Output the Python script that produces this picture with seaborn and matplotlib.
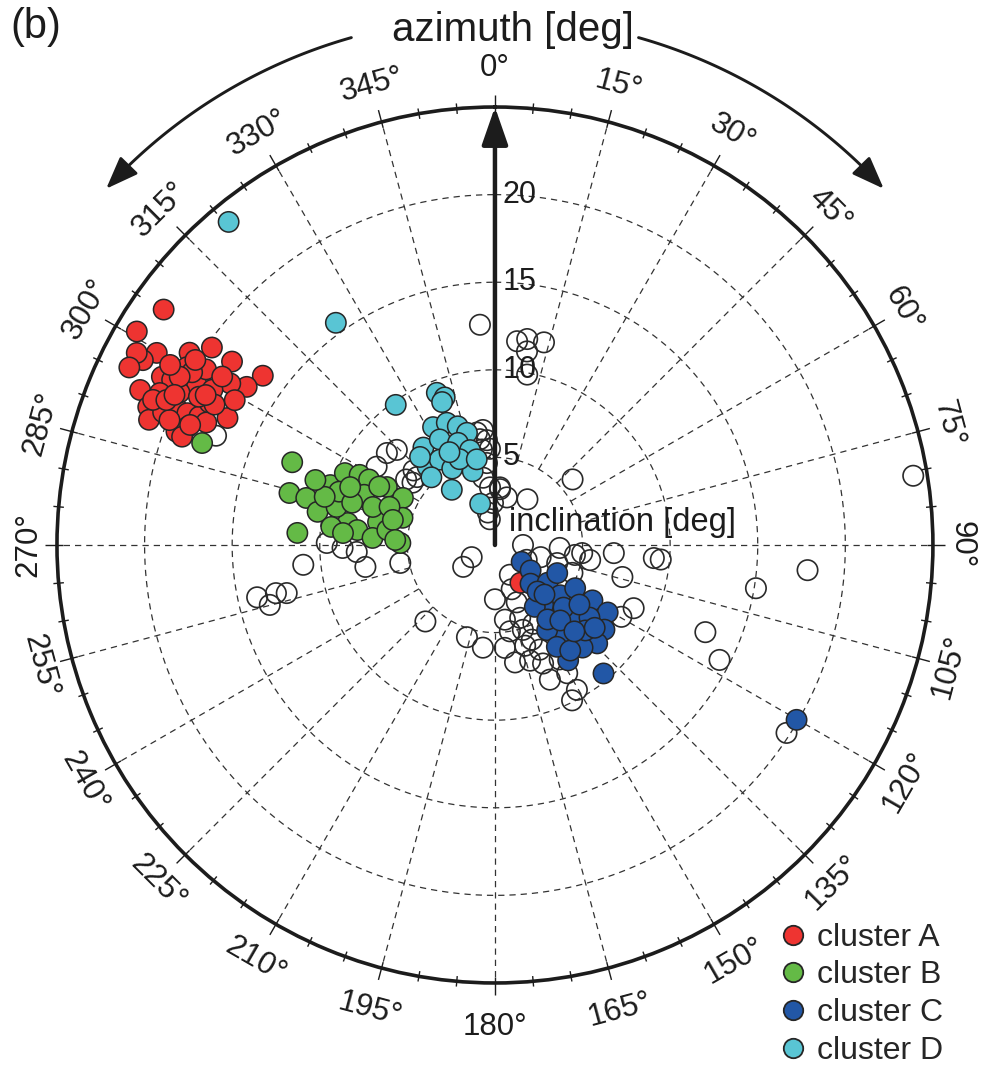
import numpy as np
import pandas as pd
import matplotlib
matplotlib.use("Agg")
import matplotlib.pyplot as plt
import matplotlib.transforms as mtransforms
from matplotlib.lines import Line2D
import seaborn as sns

# ---------------------------------------------------------------------------
# Data: azimuth [deg, clockwise from north] and inclination [deg]
# ---------------------------------------------------------------------------
a_az = [305.4, 300.8, 299.6, 297.7, 298.2, 295.9, 302.2, 304.9, 304.9, 306.1,
        302.5, 301.4, 293.6, 291.7, 289.9, 291.8, 293.3, 298.2, 300.0, 301.3,
        296.8, 297.1, 295.8, 293.2, 293.5, 295.4, 291.0, 289.6, 289.1, 296.5,
        298.8, 294.4, 293.0, 291.0, 296.6, 301.7, 299.7, 293.8, 298.1, 293.0,
        301.7, 296.6, 295.1, 299.0, 297.4, 299.1, 291.5, 146.0]
a_inc = [23.2, 23.8, 22.2, 22.7, 23.2, 23.2, 20.6, 19.7, 18.3, 16.4,
         16.8, 17.7, 22.1, 21.3, 21.0, 20.4, 19.8, 19.3, 20.3, 19.3,
         21.3, 20.7, 20.0, 19.1, 18.4, 16.9, 18.8, 19.3, 18.9, 18.2,
         18.4, 21.0, 21.2, 19.9, 18.9, 18.3, 19.9, 20.5, 20.4, 17.9,
         20.1, 17.9, 20.2, 21.2, 18.6, 17.0, 18.7, 2.6]

b_az = [292.2, 284.2, 273.5, 284.0, 280.6, 290.0, 295.6, 297.4, 297.5, 298.2,
        297.1, 286.4, 271.2, 281.1, 291.0, 278.5, 283.5, 276.3, 288.9, 286.5,
        287.3, 289.9, 276.2, 273.3, 277.9, 274.5, 285.8, 283.8, 296.8, 291.8,
        289.9, 272.9, 289.2]
b_inc = [12.5, 12.1, 11.3, 11.1, 10.3, 10.0, 9.5, 8.7, 8.1, 7.0,
         5.9, 5.5, 5.4, 6.8, 8.0, 8.5, 9.3, 9.4, 9.4, 8.5,
         7.3, 6.4, 7.9, 7.0, 6.2, 8.7, 10.1, 6.0, 7.4, 8.9,
         10.9, 5.7, 17.7]

c_az = [122.2, 125.5, 137.4, 125.6, 127.6, 118.3, 119.6, 120.9, 127.7, 133.9,
        139.5, 143.9, 140.8, 141.3, 147.2, 133.1, 127.5, 133.4, 147.6, 139.8,
        132.4, 148.5, 148.7, 144.5, 137.5, 114.3, 144.8, 139.1, 137.4, 129.7,
        125.2, 135.0, 120.1]
c_inc = [1.8, 2.5, 3.0, 3.7, 4.7, 5.2, 6.4, 7.5, 7.9, 8.1,
         7.7, 6.5, 5.2, 4.4, 4.2, 6.1, 6.8, 7.1, 7.8, 9.6,
         5.3, 5.7, 6.8, 7.4, 3.6, 3.9, 5.2, 5.7, 6.7, 7.4,
         5.9, 4.0, 19.9]

d_az = [324.7, 339.1, 341.2, 339.7, 332.3, 338.5, 342.6, 346.0, 323.7, 332.4,
        340.1, 345.3, 319.3, 327.1, 330.8, 343.2, 316.8, 322.0, 340.3, 319.6,
        337.6, 333.9, 348.0, 324.4, 320.5]
d_inc = [9.8, 9.3, 8.9, 8.7, 7.6, 7.5, 7.1, 6.6, 6.9, 6.8,
         6.2, 5.6, 5.9, 5.8, 5.0, 4.4, 5.3, 4.0, 2.5, 6.6,
         5.3, 5.9, 5.0, 15.6, 23.9]

# events not assigned to any cluster
u_az = [356.1, 6.2, 8.9, 13.6, 9.4, 10.7, 49.8, 35.4, 14.0, 4.9,
        357.3, 348.7, 350.9, 351.9, 354.0, 355.6, 352.2, 354.4, 350.0, 355.1,
        5.2, 347.7, 314.1, 306.4, 307.1, 311.1, 310.4, 303.5, 312.5, 291.4,
        270.7, 268.9, 267.1, 260.4, 264.1, 259.3, 257.6, 257.0, 257.6, 255.1,
        235.5, 242.4, 180.0, 222.3, 196.9, 186.7, 174.5, 170.3, 90.0, 115.1,
        159.2, 160.9, 161.8, 158.7, 156.8, 163.1, 157.9, 150.5, 104.9, 106.2,
        109.8, 95.3, 150.6, 150.5, 153.6, 154.0, 144.7, 93.9, 94.7, 95.0,
        104.1, 114.5, 119.6, 112.5, 117.1, 99.4, 94.6, 122.8, 80.6, 153.4,
        159.3, 172.4, 170.2, 163.3, 157.8, 92.6, 99.0, 97.1, 357.0]
u_inc = [12.6, 11.7, 11.9, 11.9, 11.2, 9.9, 5.8, 3.2, 2.8, 3.3,
         2.4, 1.5, 6.5, 6.1, 6.6, 6.0, 5.5, 4.7, 3.9, 3.3,
         3.2, 1.9, 7.8, 6.3, 5.9, 5.9, 8.1, 8.1, 6.3, 17.1,
         9.6, 8.7, 7.9, 7.5, 11.0, 5.5, 12.8, 12.2, 13.9, 13.3,
         2.2, 1.5, 3.1, 5.9, 5.5, 5.9, 5.9, 6.8, 1.6, 2.0,
         3.5, 4.4, 5.1, 5.8, 6.5, 6.9, 7.3, 7.5, 2.7, 3.7,
         4.7, 5.0, 8.4, 9.5, 9.9, 5.0, 5.2, 6.8, 9.1, 9.5,
         7.5, 8.7, 8.3, 13.0, 14.4, 15.1, 17.9, 19.8, 24.2, 1.9,
         2.7, 4.3, 5.0, 6.0, 8.3, 3.7, 5.5, 4.6, 5.5]

cluster_names = ["cluster A", "cluster B", "cluster C", "cluster D"]
cluster_colors = ["#EE3431", "#64BA46", "#2257A6", "#59C5D4"]

azimuth_ticks = list(range(0, 360, 15))
radial_ticks = [5, 10, 15, 20]
r_max = 25

# ---------------------------------------------------------------------------
sns.set_style("white")
plt.rcParams["font.family"] = ["Liberation Sans", "DejaVu Sans"]

ink = "#1c1c1c"
grid_kw = dict(color="#333333", lw=0.9, ls=(0, (5, 4)), zorder=1)
marker_s = 215

df_open = pd.DataFrame({"theta": np.deg2rad(u_az), "inc": u_inc})
df_cl = pd.concat([
    pd.DataFrame({"theta": np.deg2rad(az), "inc": inc, "cluster": name})
    for az, inc, name in zip([a_az, b_az, c_az, d_az],
                             [a_inc, b_inc, c_inc, d_inc], cluster_names)
], ignore_index=True)
palette = dict(zip(cluster_names, cluster_colors))

fig = plt.figure(figsize=(9.84, 10.68), dpi=100)
ax = fig.add_axes([0.0579, 0.0796, 0.8902, 0.8202], projection="polar")
ax.set_theta_zero_location("N")
ax.set_theta_direction(-1)

# dashed grid: circles and spokes starting at the inner circle
th = np.linspace(0, 2 * np.pi, 721)
for r in radial_ticks:
    ax.plot(th, np.full_like(th, r), **grid_kw)
for a in azimuth_ticks:
    t = np.deg2rad(a)
    ax.plot([t, t], [radial_ticks[0], r_max], **grid_kw)

# scatter of unassigned events (open) and the four clusters
sns.scatterplot(data=df_open, x="theta", y="inc", ax=ax, color="none",
                edgecolor="#2a2a2a", linewidth=1.2, s=marker_s, zorder=2,
                legend=False)
sns.scatterplot(data=df_cl, x="theta", y="inc", hue="cluster",
                palette=palette, ax=ax, edgecolor="#262626", linewidth=1.1,
                s=marker_s, zorder=3, legend=False)

ax.set_xlabel("")
ax.set_ylabel("")
ax.set_ylim(0, r_max)
ax.grid(False)
ax.set_xticks([])
ax.set_yticks([])
ax.spines["polar"].set_linewidth(2.6)
ax.spines["polar"].set_color(ink)

# azimuth tick marks on the outer circle
for a in range(0, 360, 5):
    t = np.deg2rad(a)
    r0, r1 = (24.65, 25.7) if a % 15 == 0 else (24.7, 25.3)
    ax.plot([t, t], [r0, r1], color=ink, lw=1.0, clip_on=False,
            solid_capstyle="butt", zorder=4)

# azimuth labels, tangent to the circle, kept upright
for a in azimuth_ticks:
    flip = 90 < a < 270
    c = abs(np.cos(np.deg2rad(a)))
    if flip:
        rot, r_lab, va = 180 - a, 25.75 + 0.9 * c, "top"
    else:
        rot, r_lab, va = -a, 25.8 + 0.55 * c, "bottom"
    ax.text(np.deg2rad(a), r_lab, f"{a}°", rotation=rot,
            rotation_mode="anchor", ha="center", va=va,
            fontsize=22.5, color=ink)

# inclination axis arrow with its labels
ax.annotate("", xy=(0, r_max), xytext=(0, 0),
            arrowprops=dict(arrowstyle="-|>,head_length=1.15,head_width=0.4",
                            mutation_scale=20, lw=3.2, color=ink,
                            shrinkA=0, shrinkB=0),
            annotation_clip=False, zorder=6)
lab_tr = mtransforms.offset_copy(ax.transData, fig=fig, x=8, y=0,
                                 units="dots")
for r in radial_ticks:
    ax.text(0, r, str(r), transform=lab_tr, ha="left", va="center",
            fontsize=22, color=ink, zorder=7)
inc_tr = mtransforms.offset_copy(ax.transData, fig=fig, x=14, y=23,
                                 units="dots")
ax.text(0, 0, "inclination [deg]", transform=inc_tr, ha="left",
        va="center", fontsize=23.5, color=ink, zorder=7)

# curved arrows indicating the azimuth direction
r_arc = 30.1
for start, end, sgn in [(344.2, 312.5, 1), (15.8, 47.5, -1)]:
    arc = np.deg2rad(np.linspace(start, end + sgn * 3.0, 80))
    ax.plot(arc, np.full_like(arc, r_arc), color=ink, lw=2.1,
            clip_on=False, zorder=4)
    ax.annotate("", xy=(np.deg2rad(end), r_arc),
                xytext=(np.deg2rad(end + sgn * 3.5), r_arc),
                arrowprops=dict(arrowstyle="-|>,head_length=1.0,head_width=0.38",
                                mutation_scale=20, lw=2.1, color=ink,
                                shrinkA=0, shrinkB=0),
                annotation_clip=False)

fig.text(0.521, 1 - 30 / 1068, "azimuth [deg]", ha="center", va="center",
         fontsize=29, color=ink)
fig.text(10 / 984, 1 - 27 / 1068, "(b)", ha="left", va="center",
         fontsize=30, color=ink)

handles = [Line2D([], [], ls="none", marker="o", markersize=14,
                  markerfacecolor=c, markeredgecolor="#262626",
                  markeredgewidth=1.3) for c in cluster_colors]
fig.legend(handles, cluster_names, loc="upper left",
           bbox_to_anchor=(0.797, 0.136), frameon=False, fontsize=23,
           handlelength=0.52, handletextpad=0.52, labelspacing=0.24,
           borderpad=0, borderaxespad=0)

fig.savefig("out.png", dpi=100)
